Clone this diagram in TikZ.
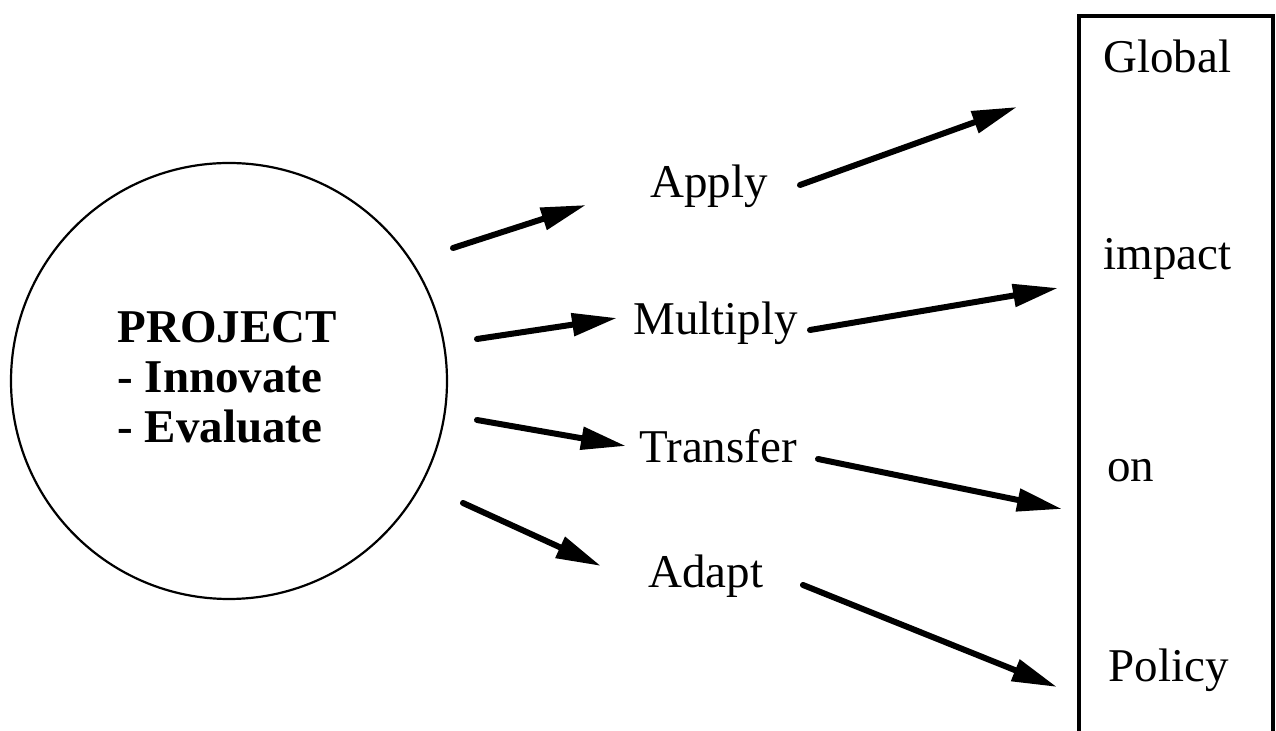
\documentclass[tikz,border=0pt]{standalone}
\usepackage{fontspec}
\setmainfont{Liberation Serif}
\usetikzlibrary{arrows.meta}

\tikzset{
  lbl/.style={anchor=base west, inner sep=0pt, font=\fontsize{23.5pt}{26pt}\selectfont},
  boldlbl/.style={lbl, font=\fontsize{23.5pt}{26pt}\selectfont\bfseries},
  flow/.style={line width=3pt, line cap=round,
    -{Triangle[length=22.5pt, width=11pt]}},
}

\begin{document}
\begin{tikzpicture}[x=0.5pt, y=-0.5pt]
  \useasboundingbox (0,0) rectangle (1276,731);

  % project circle and its text
  \node[circle, draw, line width=1.1pt, minimum size=218pt, inner sep=0pt] (proj) at (229,381) {};
  \node[boldlbl] (projtitle) at (117,343) {PROJECT};
  \node[boldlbl] (innov) at (117,393) {- Innovate};
  \node[boldlbl] (evalu) at (117,443) {- Evaluate};

  % middle labels
  \node[lbl] (apply) at (650,198) {Apply};
  \node[lbl] (mult)  at (633,335) {Multiply};
  \node[lbl] (trans) at (639,463) {Transfer};
  \node[lbl] (adapt) at (648,588) {Adapt};

  % policy box (open at the foot)
  \node[draw, line width=2pt, anchor=north west, inner sep=0pt,
        minimum width=97pt, minimum height=362pt] (box) at (1077,14) {};
  \node[lbl] (glob) at (1103,73)  {Global};
  \node[lbl] (imp)  at (1103,270) {impact};
  \node[lbl] (on)   at (1107,482) {on};
  \node[lbl] (pol)  at (1108,682) {Policy};

  % arrow end points
  \coordinate (p1) at (453,248);  \coordinate (a1) at (586,205);
  \coordinate (p2) at (477,339);  \coordinate (m1) at (617,318);
  \coordinate (p3) at (477,420);  \coordinate (t1) at (626,446);
  \coordinate (p4) at (463,503);  \coordinate (d1) at (601,566);

  \coordinate (a2) at (800,185);  \coordinate (b1) at (1017,107);
  \coordinate (m2) at (810,330);  \coordinate (b2) at (1058,288);
  \coordinate (t2) at (818,459);  \coordinate (b3) at (1062,509);
  \coordinate (d2) at (803,585);  \coordinate (b4) at (1057,687);

  % project to activities
  \draw[flow] (p1) -- (a1);
  \draw[flow] (p2) -- (m1);
  \draw[flow] (p3) -- (t1);
  \draw[flow] (p4) -- (d1);

  % activities to policy
  \draw[flow] (a2) -- (b1);
  \draw[flow] (m2) -- (b2);
  \draw[flow] (t2) -- (b3);
  \draw[flow] (d2) -- (b4);
\end{tikzpicture}
\end{document}
